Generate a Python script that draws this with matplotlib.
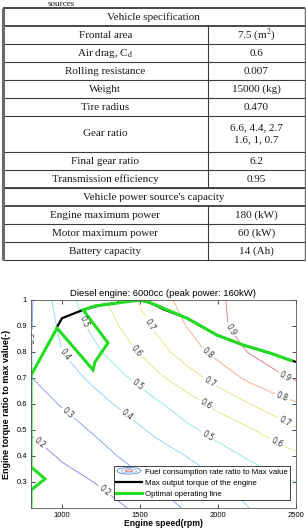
import numpy as np
import matplotlib
matplotlib.use("Agg")
import matplotlib.pyplot as plt
from matplotlib.patches import Ellipse
from matplotlib.legend_handler import HandlerBase

plt.rcParams['mathtext.fontset'] = 'stix'

# --- table data ---
spec_header = "Vehicle specification"
spec_names = ["Frontal area", "Air drag, C$_\\mathrm{d}$", "Rolling resistance", "Weight",
              "Tire radius", "Gear ratio", "Final gear ratio", "Transmission efficiency"]
spec_values = ["7.5 (m$^2$)", "0.6", "0.007", "15000 (kg)", "0.470",
               "6.6, 4.4, 2.7\n1.6, 1, 0.7", "6.2", "0.95"]
cap_header = "Vehicle power source's capacity"
cap_names = ["Engine maximum power", "Motor maximum power", "Battery capacity"]
cap_values = ["180 (kW)", "60 (kW)", "14 (Ah)"]

# --- engine map data (ratio to max fuel rate) ---
rpm = [800, 1000, 1200, 1400, 1600, 1800, 2000, 2200, 2400, 2500]
torque = [0.2, 0.3, 0.4, 0.5, 0.6, 0.7, 0.8, 0.9, 1.0]
fuel_ratio = [
    [0.120, 0.145, 0.170, 0.195, 0.252, 0.310, 0.355, 0.400, 0.440, 0.460],
    [0.130, 0.165, 0.200, 0.256, 0.308, 0.349, 0.390, 0.437, 0.485, 0.500],
    [0.161, 0.211, 0.261, 0.312, 0.357, 0.402, 0.459, 0.513, 0.557, 0.580],
    [0.211, 0.260, 0.308, 0.363, 0.418, 0.478, 0.535, 0.589, 0.656, 0.690],
    [0.258, 0.307, 0.365, 0.420, 0.482, 0.555, 0.629, 0.698, 0.760, 0.790],
    [0.298, 0.357, 0.418, 0.489, 0.574, 0.655, 0.737, 0.821, 0.893, 0.910],
    [0.297, 0.400, 0.476, 0.563, 0.656, 0.749, 0.833, 0.905, 0.930, 0.940],
    [0.295, 0.423, 0.523, 0.617, 0.717, 0.803, 0.886, 0.930, 0.950, 0.960],
    [0.290, 0.455, 0.558, 0.663, 0.760, 0.832, 0.890, 0.930, 0.960, 0.970],
]
levels = [0.2, 0.3, 0.4, 0.5, 0.6, 0.7, 0.8, 0.9]

max_rpm = [967, 999, 1134, 1243, 1486, 1563, 1647, 1801, 1993, 2160, 2333, 2461, 2500]
max_trq = [0.896, 0.93, 0.962, 0.98, 1.0, 0.99, 0.965, 0.93, 0.865, 0.827, 0.796, 0.769, 0.762]

opt_rpm = [800, 800, 890, 800, 800, 967, 1198, 1211, 1294, 1134, 1211, 1499, 1563, 1647,
           1801, 1993, 2160, 2333, 2470]
opt_trq = [0.2, 0.269, 0.312, 0.358, 0.71, 0.892, 0.731, 0.762, 0.835, 0.962, 0.977, 1.0,
           0.99, 0.969, 0.93, 0.865, 0.827, 0.796, 0.767]

W, H = 306, 528
fig = plt.figure(figsize=(W / 100, H / 100), dpi=100)

# ---------------- table ----------------
tab = fig.add_axes([0, 0, 1, 1])
tab.set_xlim(0, W)
tab.set_ylim(H, 0)
tab.axis('off')
serif = dict(family='Liberation Serif', fontsize=8, color='#1a1a1a')
line_c = '#3a3a3a'
x_left, x_mid, x_right = 2.5, 208, 304.5
row_h = 18

tab.text(48, 3.5, "sources", ha='left', va='center', family='Liberation Serif',
         fontsize=6.5, color='#1a1a1a')


def header(y, txt):
    tab.hlines([y, y + row_h], x_left, x_right, color=line_c, lw=1.3)
    tab.text((x_left + x_right) / 2, y + row_h / 2, txt, ha='center', va='center', **serif)
    return y + row_h


def rows(y, names, values):
    for n, v in zip(names, values):
        h = row_h * (v.count('\n') + 1)
        tab.text((x_left + x_mid) / 2, y + h / 2, n, ha='center', va='center', **serif)
        tab.text((x_mid + x_right) / 2, y + h / 2, v, ha='center', va='center',
                 linespacing=1.5, **serif)
        tab.vlines(x_mid, y, y + h, color=line_c, lw=0.8)
        y += h
        tab.hlines(y, x_left, x_right, color=line_c, lw=0.8)
    return y


y0 = 8
y = header(y0, spec_header)
y = rows(y, spec_names, spec_values)
y = header(y, cap_header)
y = rows(y, cap_names, cap_values)
tab.vlines(x_left, y0, y, color='#6a6a6a', lw=2.2)
tab.vlines(x_right, y0, y, color='#6a6a6a', lw=1.0)

# ---------------- engine map ----------------
ax = fig.add_axes([31 / W, 1 - 508 / H, 265 / W, 208 / H])
colors = ['#7f7fe0', '#7c9be6', '#86cdf0', '#86e4e0', '#dfe67c', '#f0dc80', '#f2a682', '#e2707a']
cs = ax.contour(rpm, torque, np.array(fuel_ratio), levels=levels, colors=colors, linewidths=0.6)
label_pos = [(845, 0.442), (1275, 0.269),
             (806, 0.854), (1037, 0.565),
             (1018, 0.79), (1416, 0.558), (1993, 0.22),
             (1127, 0.915), (1486, 0.673), (1929, 0.473),
             (1486, 0.808), (1916, 0.596), (2378, 0.45),
             (1563, 0.904), (1948, 0.685), (2429, 0.531),
             (1929, 0.792), (2417, 0.635),
             (2032, 0.865), (2417, 0.692)]
ax.clabel(cs, fmt='%.1f', fontsize=5.5, inline=True, inline_spacing=2, manual=label_pos,
          colors='#333333')

l_max, = ax.plot(max_rpm, max_trq, color='black', lw=1.6)
l_opt, = ax.plot(opt_rpm, opt_trq, color='#22dd22', lw=2.2, solid_joinstyle='miter')

ax.set_xlim(800, 2500)
ax.set_ylim(0.2, 1.0)
ax.set_xticks([1000, 1500, 2000, 2500])
ax.set_yticks([0.3, 0.4, 0.5, 0.6, 0.7, 0.8, 0.9, 1.0])
ax.set_yticklabels(['0.3', '0.4', '0.5', '0.6', '0.7', '0.8', '0.9', '1'])
ax.tick_params(direction='in', top=True, right=True, length=3, width=0.5, labelsize=5.5, pad=3)
for sp in ax.spines.values():
    sp.set_linewidth(0.6)
    sp.set_color('#555555')
sans = 'Liberation Sans'
for lab in ax.get_xticklabels() + ax.get_yticklabels():
    lab.set_family(sans)
ax.set_title('Diesel engine: 6000cc (peak power: 160kW)', fontsize=6.8, family=sans, pad=3)
ax.set_ylabel('Engine torque ratio to max value(-)', fontsize=6.5, family=sans,
              fontweight='bold', labelpad=4)
ax.set_xlabel('Engine speed(rpm)', fontsize=6.2, family=sans, fontweight='bold', labelpad=0)


class ContourKey:
    pass


class ContourHandler(HandlerBase):
    def create_artists(self, legend, orig_handle, xdescent, ydescent, width, height,
                       fontsize, trans):
        cx, cy = width / 2 - xdescent, height / 2 - ydescent
        arts = []
        for fw, fh, c in [(0.95, 1.2, '#5b84d6'), (0.6, 0.75, '#90d4ee'), (0.3, 0.35, '#e07070')]:
            arts.append(Ellipse((cx, cy), width * fw, height * fh, fill=False,
                                edgecolor=c, lw=0.6, transform=trans))
        return arts


leg = ax.legend([ContourKey(), l_max, l_opt],
                ['Fuel consumption rate ratio to Max value', 'Max output torque of the engine',
                 'Optimal operating line'],
                handler_map={ContourKey: ContourHandler()},
                loc='lower right', bbox_to_anchor=(0.977, 0.038), prop={'family': sans, 'size': 5.7},
                fancybox=False, edgecolor='#222222', framealpha=1, handlelength=3.2,
                labelspacing=0.45, borderpad=0.3, handletextpad=0.4, borderaxespad=0)
leg.get_frame().set_linewidth(0.6)

fig.savefig('out.png', dpi=100)
